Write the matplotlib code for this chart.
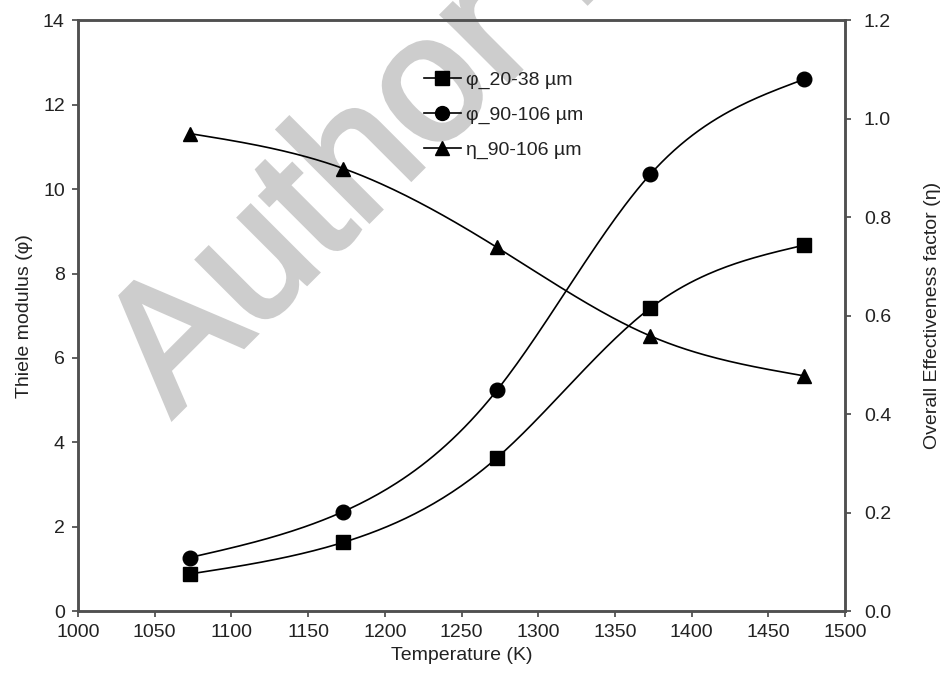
import numpy as np
import matplotlib.pyplot as plt
import matplotlib.patheffects as pe
from matplotlib.lines import Line2D

plt.rcParams['font.family'] = ['Liberation Sans', 'DejaVu Sans']

# temperatures (K)
temperature = [1073, 1173, 1273, 1373, 1473]
# Thiele modulus
phi_20_38 = [0.88, 1.63, 3.63, 7.18, 8.67]
phi_90_106 = [1.27, 2.36, 5.23, 10.35, 12.6]
# overall effectiveness factor
eta_90_106 = [0.970, 0.899, 0.739, 0.559, 0.478]

labels = ['φ_20-38 µm', 'φ_90-106 µm', 'η_90-106 µm']


def natural_spline(x, y, n=200):
    # smooth curve through the points (natural cubic spline)
    x = np.asarray(x, float)
    y = np.asarray(y, float)
    k = len(x)
    h = np.diff(x)
    A = np.zeros((k, k))
    b = np.zeros(k)
    A[0, 0] = 1
    A[-1, -1] = 1
    for i in range(1, k - 1):
        A[i, i - 1] = h[i - 1]
        A[i, i] = 2 * (h[i - 1] + h[i])
        A[i, i + 1] = h[i]
        b[i] = 3 * ((y[i + 1] - y[i]) / h[i] - (y[i] - y[i - 1]) / h[i - 1])
    c = np.linalg.solve(A, b)
    xs = np.linspace(x[0], x[-1], n)
    ys = np.empty_like(xs)
    for j, xv in enumerate(xs):
        i = min(np.searchsorted(x, xv, side='right') - 1, k - 2)
        d = (c[i + 1] - c[i]) / (3 * h[i])
        bb = (y[i + 1] - y[i]) / h[i] - h[i] * (2 * c[i] + c[i + 1]) / 3
        t = xv - x[i]
        ys[j] = y[i] + bb * t + c[i] * t ** 2 + d * t ** 3
    return xs, ys


fig = plt.figure(figsize=(9.4, 6.79), dpi=100)
ax = fig.add_axes([0.083, 0.100, 0.816, 0.870])
ax2 = ax.twinx()
ax.set_zorder(1)
ax.patch.set_alpha(0)

# watermark
wm_color = '#cdcdcd'
fig.text(172 / 940, 1 - 418 / 679, 'Author Manuscript', fontsize=128,
         color=wm_color, rotation=45, rotation_mode='anchor',
         ha='left', va='baseline', zorder=-1,
         path_effects=[pe.withStroke(linewidth=3.5, foreground=wm_color,
                                     joinstyle='miter')])

tc = '#222222'
lw = 1.2
for series in (phi_20_38, phi_90_106):
    xs, ys = natural_spline(temperature, series)
    ax.plot(xs, ys, color='black', lw=lw)
xs, ys = natural_spline(temperature, eta_90_106)
ax2.plot(xs, ys, color='black', lw=lw)

ax.plot(temperature, phi_20_38, 's', color='black', ms=10.5)
ax.plot(temperature, phi_90_106, 'o', color='black', ms=10.5)
ax2.plot(temperature, eta_90_106, '^', color='black', ms=10)

leg_handles = [Line2D([], [], color='black', lw=lw, marker=m, ms=ms)
               for m, ms in (('s', 10), ('o', 10), ('^', 9.5))]
fig.legend(leg_handles, labels,
           loc='upper left', bbox_to_anchor=(424 / 940, 1 - 71 / 679),
           frameon=False, fontsize=14, handlelength=1.9, handletextpad=0.25,
           labelspacing=0.9, borderpad=0, borderaxespad=0, labelcolor=tc)

ax.set_xlim(1000, 1500)
ax.set_ylim(0, 14)
ax2.set_ylim(0, 1.2)
ax.set_xticks(np.arange(1000, 1501, 50))
ax.set_yticks(np.arange(0, 15, 2))
eta_ticks = np.arange(0, 1.21, 0.2)
ax2.set_yticks(eta_ticks)
ax2.set_yticklabels([f'{v:.1f}' for v in eta_ticks])

ax.set_xlabel('Temperature (K)', fontsize=14, color=tc, labelpad=4)
ax.set_ylabel('Thiele modulus (φ)', fontsize=14, color=tc, labelpad=7)
ax2.set_ylabel('Overall Effectiveness factor (η)', fontsize=14, color=tc,
               labelpad=24)

for a in (ax, ax2):
    a.tick_params(direction='out', length=4.5, width=1.2, colors='#444444',
                  labelsize=14, labelcolor=tc, pad=5)
    for s in a.spines.values():
        s.set_linewidth(1.8)
        s.set_color('#505050')
ax2.tick_params(pad=9)

fig.savefig('out.png', dpi=100)
